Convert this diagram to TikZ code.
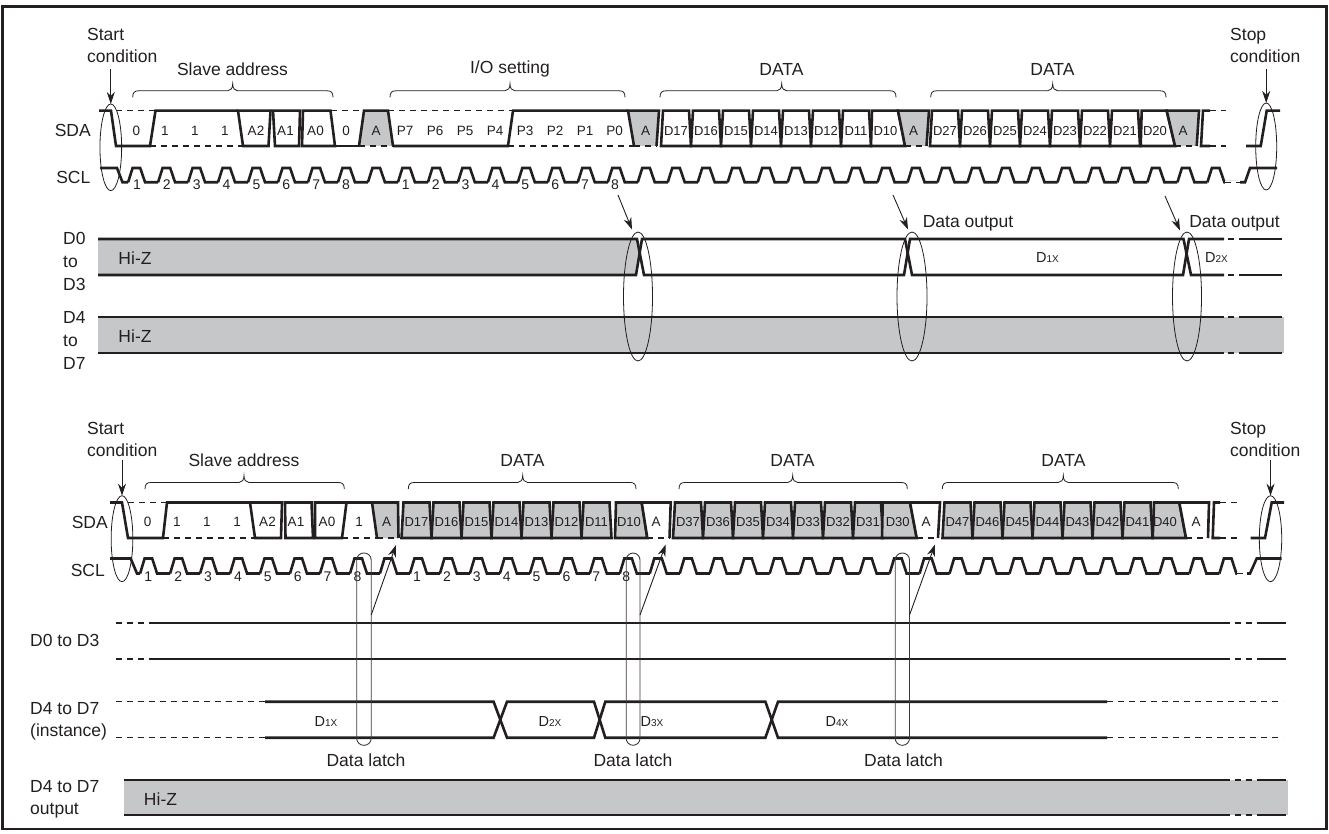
\documentclass[tikz,border=0pt]{standalone}
\usepackage{fontspec}
\setmainfont{Liberation Sans}
\usetikzlibrary{arrows.meta,shapes.geometric}
\definecolor{ink}{HTML}{231F20}
\definecolor{hiz}{HTML}{C6C7C9}
\newcount\lblcnt
\newcommand{\fsz}[1]{\fontsize{#1}{22}\selectfont}
\tikzset{
 sigline/.style={line width=2.6pt,draw=ink,line join=miter},
 dashline/.style={line width=1.1pt,draw=ink,dash pattern=on 6pt off 5pt},
 thinline/.style={line width=0.8pt,draw=ink},
 latchline/.style={line width=0.9pt,draw=ink!88,rounded corners=7pt},
 arrline/.style={line width=0.9pt,draw=ink,-{Stealth[length=12pt,width=8pt]}},
 ringnode/.style={ellipse,draw=ink,line width=0.8pt,inner sep=0pt,outer sep=0pt},
 big/.style={text=ink,font=\fsz{17.5},inner sep=0pt},
 small/.style={text=ink,font=\fsz{13.5},inner sep=0pt,text height=9.6pt,text depth=0pt},
 tiny/.style={text=ink,font=\fsz{13},inner sep=0pt,text height=9.4pt,text depth=0pt},
 num/.style={text=ink,font=\fsz{14},inner sep=0pt,text height=10pt,text depth=0pt},
 subtext/.style={text=ink,font=\fsz{14.5},inner sep=0pt,text height=10.4pt,text depth=0pt},
}
\newcommand{\T}[4][big]{\global\advance\lblcnt by 1 \node[#1] (t\the\lblcnt) at (#2,#3) {#4};}
% fill, top-left, top-right, bottom-left, bottom-right
\newcommand{\Cell}[5]{\filldraw[sigline,fill=#1] (#2,\yT)--(#3,\yT)--(#5,\yB)--(#4,\yB)--cycle;}
% data cell at a centre
\newcommand{\DC}[3]{\Cell{#1}{#2-13}{#2+13}{#2-15}{#2+15}\T[tiny]{#2}{\yM}{#3}}
% ack slot: fill, top-left, top-right, bottom-left, bottom-right (dashed bottom)
\newcommand{\Ack}[6]{\fill[#1] (#2,\yT)--(#3,\yT)--(#5,\yB)--(#4,\yB)--cycle;
 \draw[dashline] (#4,\yB)--(#5,\yB);
 \draw[sigline] (#4,\yB)--(#2,\yT)--(#3,\yT)--(#5,\yB);
 \T[small]{#6}{\yM}{A}}
\newcommand{\Pulses}[3]{\foreach \k in {0,...,36}{
  \pgfmathsetmacro{\cc}{#1+29.98*\k}
  \draw[sigline] (\cc-8.5,#3)--(\cc-4,#2)--(\cc+3.6,#2)--(\cc+8.5,#3)--(\cc+21.5,#3);}}
\newcommand{\Brace}[4]{\draw[thinline] (#1,#4) .. controls (#1,#4-5) and (#1+2,#4-6.5) .. (#1+6,#4-6.5)
 -- (#2-5,#4-6.5) .. controls (#2-2,#4-6.5) and (#2,#4-9) .. (#2,#4-13.5)
 .. controls (#2,#4-9) and (#2+2,#4-6.5) .. (#2+5,#4-6.5)
 -- (#3-6,#4-6.5) .. controls (#3-2,#4-6.5) and (#3,#4-5) .. (#3,#4);}
\newcommand{\DX}[1]{D{\fsz{10}#1X}}
\begin{document}
\begin{tikzpicture}[x=1pt,y=-1pt]
\useasboundingbox (0,0) rectangle (1329,834);
\draw[line width=2.5pt,ink] (2.5,6.5) rectangle (1326.5,829);

%%%%%%%%%% upper diagram
\def\yT{110.7}\def\yB{146}\def\yM{130.5}
\draw[dashline] (116,\yT)--(155,\yT);
\draw[dashline] (150,\yB)--(243,\yB);
\draw[dashline] (330.5,\yT)--(364,\yT);
\draw[dashline] (388,\yT)--(513,\yT);
\draw[dashline] (508,\yB)--(634,\yB);
\draw[sigline] (99,\yT)--(111,\yT)--(116,\yB)--(150,\yB)--(155.5,\yT)--(238,\yT);
\T[small]{136.5}{\yM}{0}
\foreach \c in {165,195,225}{\T[small]{\c}{\yM}{1}}
\Cell{white}{238}{270.5}{243}{268.5}\T[small]{256}{\yM}{A2}
\Cell{white}{273}{300}{275}{299}\T[small]{285.5}{\yM}{A1}
\Cell{white}{303}{330.5}{302}{335}\T[small]{315.5}{\yM}{A0}
\T[small]{346}{\yM}{0}
\draw[sigline] (335,\yB)--(359,\yB);
\Ack{hiz}{364}{388}{359}{393}{376}
\draw[sigline] (393,\yB)--(508,\yB)--(513,\yT)--(628,\yT);
\foreach \c/\l in {405/P7,435/P6,465/P5,495/P4,525/P3,555/P2,585/P1,614.5/P0}{\T[small]{\c}{\yM}{\l}}
\Ack{hiz}{628}{659}{634}{656.5}{645.5}
\foreach \c/\l in {676/D17,706/D16,736/D15,766/D14,796/D13,826/D12,856/D11}{\DC{white}{\c}{\l}}
\Cell{white}{872}{898}{871}{905}\T[tiny]{885.5}{\yM}{D10}
\Ack{hiz}{898}{929}{905}{926.5}{913.5}
\foreach \c/\l in {945/D27,975/D26,1005/D25,1035/D24,1065/D23,1095/D22,1125/D21}{\DC{white}{\c}{\l}}
\Cell{white}{1141.7}{1166.7}{1140.7}{1175}\T[tiny]{1155}{\yM}{D20}
\Ack{hiz}{1166.7}{1199}{1175}{1196.7}{1183}
\draw[sigline] (1210,\yT)--(1203,\yT)--(1201,\yB)--(1210,\yB);
\draw[dashline] (1210,\yT)--(1226,\yT);
\draw[dashline] (1210,\yB)--(1226,\yB);
\draw[sigline] (1246,\yB)--(1260.7,\yB)--(1266.7,\yT)--(1280,\yT);
% SCL
\draw[sigline] (100,168)--(117,168)--(122.5,182.3)--(128.2,182.3);
\Pulses{136.6}{168}{182.3}
\draw[white,line width=3.4pt] (1225.2,182.3)--(1240,182.3);
\draw[dashline] (1225,182.3)--(1245,182.3);
\draw[sigline] (1240,182.3)--(1245,182.3)--(1250,168)--(1277,168);
\foreach \n/\k in {1/0,2/1,3/2,4/3,5/4,6/5,7/6,8/7,1/9,2/10,3/11,4/12,5/13,6/14,7/15,8/16}{
  \pgfmathsetmacro{\xx}{137+29.87*\k}\T[num]{\xx}{185}{\n}}
% labels
\global\advance\lblcnt by 1
\node[big,align=left,anchor=west] (t\the\lblcnt) at (87,45) {Start\\condition};
\global\advance\lblcnt by 1
\node[big,align=left,anchor=west] (t\the\lblcnt) at (1230,45) {Stop\\condition};
\node[big,anchor=east] (sda1) at (91,130.5) {SDA};
\node[big,anchor=east] (scl1) at (90.5,177.5) {SCL};
\T{232.5}{69}{Slave address}
\T{510}{69}{I/O setting}
\T{781.5}{69}{DATA}
\T{1052.5}{69}{DATA}
\Brace{132.7}{232.7}{333}{97.3}
\Brace{390}{510}{625}{97.3}
\Brace{660}{781.7}{896}{97.3}
\Brace{930.7}{1052.7}{1166}{97.3}
% bus rows
\fill[hiz] (98,239)--(637,239)--(640,257)--(636,275)--(98,275)--cycle;
\fill[hiz] (98,317) rectangle (1284,353);
\draw[sigline] (98,239)--(637,239)--(644,275)--(904,275)--(910,239)--(1183.5,239)--(1191,275)--(1224,275);
\draw[sigline] (98,275)--(636,275)--(642,239)--(905,239)--(912,275)--(1183,275)--(1189,239)--(1224,239);
\draw[sigline] (1245,239)--(1282,239);\draw[sigline] (1245,275)--(1282,275);
\draw[sigline] (98,317)--(1224,317);\draw[sigline] (1245,317)--(1282,317);
\draw[sigline] (98,353)--(1224,353);\draw[sigline] (1245,353)--(1282,353);
\foreach \y in {239,275,317,353}{\draw[line width=1.1pt,ink,dash pattern=on 6pt off 5pt,dash phase=-4pt] (1224,\y)--(1245,\y);}
\T{135}{258}{Hi-Z}
\T{135}{336.5}{Hi-Z}
\T[subtext]{1047.5}{257}{\DX{1}}
\T[subtext]{1216.5}{257}{\DX{2}}
\T{968}{223}{Data output}
\T{1234.5}{223}{Data output}
\global\advance\lblcnt by 1
\node[big,align=left,anchor=west] (t\the\lblcnt) at (63,261) {D0\\[1pt]to\\[1pt]D3};
\global\advance\lblcnt by 1
\node[big,align=left,anchor=west] (t\the\lblcnt) at (63,340.5) {D4\\[1pt]to\\[1pt]D7};
% rings and arrows
\node[ringnode,minimum width=21.7pt,minimum height=86.7pt] (rA) at (110.8,147.3) {};
\node[ringnode,minimum width=21pt,minimum height=87pt] (rB) at (1266.2,146.5) {};
\node[ringnode,minimum width=29pt,minimum height=129pt] (rC) at (638,296.5) {};
\node[ringnode,minimum width=30pt,minimum height=129pt] (rD) at (912,296.5) {};
\node[ringnode,minimum width=29pt,minimum height=129pt] (rE) at (1187,296.5) {};
\coordinate (aA) at (110.8,69);\coordinate (aB) at (1266.2,69);
\coordinate (aC) at (618,195);\coordinate (tC) at (632,229.5);
\coordinate (aD) at (893,195);\coordinate (tD) at (908,229.5);
\coordinate (aE) at (1165,196);\coordinate (tE) at (1180,230.5);
\draw[arrline] (aA)--(rA.north);
\draw[arrline] (aB)--(rB.north);
\draw[arrline] (aC)--(tC);
\draw[arrline] (aD)--(tD);
\draw[arrline] (aE)--(tE);

%%%%%%%%%% lower diagram
\def\yT{502.5}\def\yB{538}\def\yM{521.5}
\draw[dashline] (128,\yT)--(167,\yT);
\draw[dashline] (163,\yB)--(255,\yB);
\draw[dashline] (342,\yB)--(377,\yB);
\draw[sigline] (110,\yT)--(122,\yT)--(128,\yB)--(163,\yB)--(167,\yT)--(250,\yT);
\T[small]{147.7}{\yM}{0}
\foreach \c in {177,207,237}{\T[small]{\c}{\yM}{1}}
\Cell{white}{250}{282}{255}{281}\T[small]{267.5}{\yM}{A2}
\Cell{white}{285}{311.5}{285.5}{313}\T[small]{296}{\yM}{A1}
\Cell{white}{315}{346.5}{315}{342}\T[small]{327}{\yM}{A0}
\T[small]{359}{\yM}{1}
\draw[sigline] (346.5,\yT)--(372,\yT);
\Ack{hiz}{372}{398}{377}{398.5}{386.7}
\foreach \c/\l in {416.5/D17,446.5/D16,476.5/D15,506.5/D14,536.5/D13,566.5/D12,596.5/D11}{\DC{hiz}{\c}{\l}}
\Cell{hiz}{616}{641.7}{615}{647.3}\T[tiny]{629}{\yM}{D10}
\Ack{white}{641.7}{670.7}{647.3}{669.5}{656}
\foreach \c/\l in {688/D37,718/D36,748/D35,778/D34,808/D33,838/D32,868/D31}{\DC{hiz}{\c}{\l}}
\Cell{hiz}{882.7}{910}{882}{916.7}\T[tiny]{897.7}{\yM}{D30}
\Ack{white}{910}{940}{916.7}{938}{926}
\foreach \c/\l in {957.5/D47,987.5/D46,1017.5/D45,1047.5/D44,1077.5/D43,1107.5/D42,1137.5/D41}{\DC{hiz}{\c}{\l}}
\Cell{hiz}{1154}{1179.3}{1152.7}{1186}\T[tiny]{1165}{\yM}{D40}
\Ack{white}{1179.3}{1209}{1186}{1208}{1196}
\draw[sigline] (1220,\yT)--(1214,\yT)--(1212.7,\yB)--(1220,\yB);
\draw[dashline] (1220,\yT)--(1238,\yT);
\draw[dashline] (1220,\yB)--(1238,\yB);
\draw[sigline] (1250.7,\yB)--(1265,\yB)--(1271.7,\yT)--(1284,\yT);
% SCL
\draw[sigline] (110,558.5)--(130.7,558.5)--(137,573.5)--(140.2,573.5);
\Pulses{148.6}{558.5}{573.5}
\draw[white,line width=3.4pt] (1237.2,573.5)--(1252,573.5);
\draw[dashline] (1237,573.5)--(1250,573.5);
\draw[sigline] (1247,573.5)--(1250,573.5)--(1256.7,558.5)--(1281.7,558.5);
\foreach \n/\k in {1/0,2/1,3/2,4/3,5/4,6/5,7/6,8/7,1/9,2/10,3/11,4/12,5/13,6/14,7/15,8/16}{
  \pgfmathsetmacro{\xx}{148.3+29.87*\k}\T[num]{\xx}{576.5}{\n}}
\global\advance\lblcnt by 1
\node[big,align=left,anchor=west] (t\the\lblcnt) at (87,439) {Start\\condition};
\global\advance\lblcnt by 1
\node[big,align=left,anchor=west] (t\the\lblcnt) at (1230,439) {Stop\\condition};
\node[big,anchor=east] (sda2) at (108,522.5) {SDA};
\node[big,anchor=east] (scl2) at (105,570) {SCL};
\T{244}{460}{Slave address}
\T{522.5}{460}{DATA}
\T{792.5}{460}{DATA}
\T{1063.5}{460}{DATA}
\Brace{145}{244}{344.3}{489}
\Brace{408.3}{522.7}{636}{489}
\Brace{679}{792.7}{907.3}{489}
\Brace{942.3}{1063.3}{1178.3}{489}
% lower rows
\foreach \y in {623,659}{
 \draw[dashline] (115.5,\y)--(153,\y);
 \draw[sigline] (153,\y)--(1229.5,\y);
 \draw[sigline] (1257.5,\y)--(1285.5,\y);
 \draw[line width=1.1pt,ink,dash pattern=on 6pt off 5pt,dash phase=-5pt] (1229.5,\y)--(1257.5,\y);}
\draw[dashline] (115.5,701.7)--(265,701.7);
\draw[dashline] (115.5,737.7)--(265,737.7);
\draw[dashline] (1107,701.7)--(1283,701.7);
\draw[dashline] (1107,737.7)--(1283,737.7);
\draw[sigline] (265,701.7)--(493.6,701.7)--(507,737.7)--(594,737.7)--(605.3,701.7)--(765.4,701.7)--(778,737.7)--(1107,737.7);
\draw[sigline] (265,737.7)--(493.6,737.7)--(507,701.7)--(594,701.7)--(605.3,737.7)--(765.4,737.7)--(778,701.7)--(1107,701.7);
\T[subtext]{326}{721}{\DX{1}}
\T[subtext]{550}{721}{\DX{2}}
\T[subtext]{652}{721}{\DX{3}}
\T[subtext]{837}{721}{\DX{4}}
\T{366}{760}{Data latch}
\T{633}{760}{Data latch}
\T{903.5}{760}{Data latch}
\fill[hiz] (123.5,780) rectangle (1288,815);
\draw[sigline] (123.5,780)--(1229.5,780);\draw[sigline] (1257.5,780)--(1285.5,780);
\draw[sigline] (123.5,815)--(1229.5,815);\draw[sigline] (1257.5,815)--(1285.5,815);
\foreach \y in {780,815}{\draw[line width=1.1pt,ink,dash pattern=on 6pt off 5pt,dash phase=-5pt] (1229.5,\y)--(1257.5,\y);}
\T{160.5}{799}{Hi-Z}
\node[big,anchor=west] (lblA) at (30,640.5) {D0 to D3};
\global\advance\lblcnt by 1
\node[big,align=left,anchor=west] (t\the\lblcnt) at (30,721) {D4 to D7\\(instance)};
\global\advance\lblcnt by 1
\node[big,align=left,anchor=west] (t\the\lblcnt) at (30,799) {D4 to D7\\output};
% rings, capsules, arrows
\node[ringnode,minimum width=21.7pt,minimum height=86pt] (rF) at (122,538.7) {};
\node[ringnode,minimum width=22.4pt,minimum height=86pt] (rG) at (1270.5,538.7) {};
\coordinate (aF) at (122,460);\coordinate (aG) at (1270.5,460);
\draw[arrline] (aF)--(rF.north);
\draw[arrline] (aG)--(rG.north);
\draw[latchline] (356.7,553) rectangle (371.2,745.3);
\draw[latchline] (626.2,553) rectangle (640,745.3);
\draw[latchline] (895.2,553) rectangle (909.5,745.3);
\coordinate (bH) at (371.2,615);\coordinate (tH) at (396,545);
\coordinate (bI) at (640,615);\coordinate (tI) at (665.7,544.5);
\coordinate (bJ) at (909.5,615);\coordinate (tJ) at (935,544.5);
\draw[arrline] (bH)--(tH);
\draw[arrline] (bI)--(tI);
\draw[arrline] (bJ)--(tJ);
\end{tikzpicture}
\end{document}
